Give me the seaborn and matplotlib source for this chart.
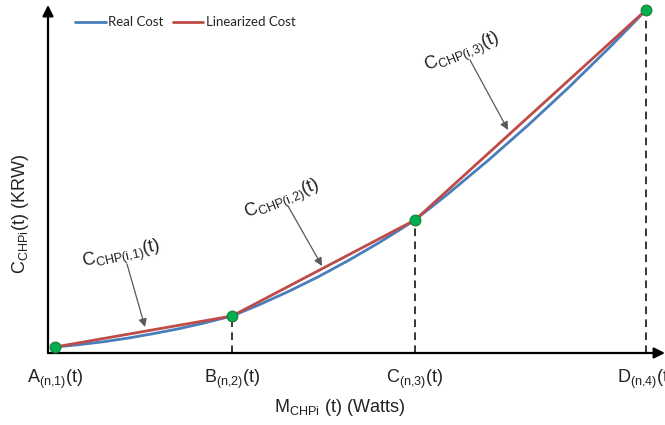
import matplotlib
matplotlib.use("Agg")
import matplotlib.pyplot as plt
import numpy as np
import pandas as pd
import seaborn as sns

# Cost curve of the CHP unit (power offset, cost offset in plot units)
power = [7, 30, 55, 80, 105, 130, 155, 184, 210, 240, 270, 300, 330, 350, 367,
         400, 440, 480, 520, 560, 585, 598]
real_cost = [6, 8.2, 11.2, 14.9, 19.3, 24.1, 29.7, 37, 47.7, 61.3, 76.1, 92.3, 109.7,
             122.1, 133, 159.1, 192.5, 227.7, 264.9, 304, 329.5, 343]

# Breakpoints of the piecewise-linear approximation
break_power = [7, 184, 367, 598]
break_cost = [6, 37, 133, 343]
break_labels = [r"A$_{(n{,}1)}$(t)", r"B$_{(n{,}2)}$(t)", r"C$_{(n{,}3)}$(t)", r"D$_{(n{,}4)}$(t)"]

# Segment annotations: text, text position, rotation, arrow start, arrow end
segment_labels = [r"C$_{CHP(i{,}1)}$(t)", r"C$_{CHP(i{,}2)}$(t)", r"C$_{CHP(i{,}3)}$(t)"]
segment_text_xy = [(74, 98), (235, 153), (415, 300)]
segment_rotation = [12, 22, 22]
segment_arrow_from = [(79, 89), (240, 147), (422, 293)]
segment_arrow_to = [(97, 26), (274, 87), (460, 223)]

sns.set_style("white")
plt.rcParams["font.family"] = ["Liberation Sans", "DejaVu Sans"]
plt.rcParams["mathtext.default"] = "regular"

df = pd.concat([
    pd.DataFrame({"power": power, "cost": real_cost, "series": "Real Cost"}),
    pd.DataFrame({"power": break_power, "cost": break_cost, "series": "Linearized Cost"}),
])

W, H = 665, 425
fig = plt.figure(figsize=(W / 100, H / 100), dpi=100)
ax = fig.add_axes([48 / W, (H - 353) / H, (W - 48) / W, (353 - 5) / H])

sns.lineplot(data=df, x="power", y="cost", hue="series", ax=ax,
             palette={"Real Cost": "#4a7ebb", "Linearized Cost": "#be4b48"},
             linewidth=2, sort=False, estimator=None)

ax.vlines(break_power[1:], 0, break_cost[1:], colors="black",
          linestyles=(0, (5, 3.5)), linewidth=1.1, zorder=1)
ax.scatter(break_power, break_cost, s=60, color="#00b050",
           edgecolor="#1f7a33", linewidth=0.8, zorder=5, clip_on=False)

ax.set_xlim(0, 617)
ax.set_ylim(0, 348)
for s in ax.spines.values():
    s.set_visible(False)

# Axis lines with arrow heads
arrow_kw = dict(arrowstyle="-|>", lw=1.6, color="black", mutation_scale=16,
                shrinkA=0, shrinkB=0)
ax.annotate("", xy=(1, 0), xytext=(0, 0), xycoords="axes fraction",
            arrowprops=arrow_kw, annotation_clip=False)
ax.annotate("", xy=(0, 1), xytext=(0, 0), xycoords="axes fraction",
            arrowprops=arrow_kw, annotation_clip=False)

ax.set_xticks(break_power)
ax.set_xticklabels(break_labels, fontsize=13, color="#222222")
ax.set_yticks([])
ax.tick_params(axis="x", length=0, pad=11)

ax.set_xlabel(r"M$_{CHPi}$ (t) (Watts)", fontsize=13, color="#222222")
ax.xaxis.set_label_coords(0.473, -0.158)
ax.xaxis.label.set_va("center")
ax.set_ylabel(r"C$_{CHPi}$(t) (KRW)", fontsize=13, color="#222222")
ax.yaxis.set_label_coords(-0.045, 0.40)
ax.yaxis.label.set_va("center")

for txt, xy, rot, a0, a1 in zip(segment_labels, segment_text_xy, segment_rotation,
                                segment_arrow_from, segment_arrow_to):
    ax.text(xy[0], xy[1], txt, fontsize=13, rotation=rot, rotation_mode="anchor",
            ha="center", va="center", color="#222222")
    ax.annotate("", xy=a1, xytext=a0,
                arrowprops=dict(arrowstyle="-|>", color="#595959", lw=0.9,
                                mutation_scale=12, shrinkA=0, shrinkB=0))

leg = ax.legend(loc="upper left", bbox_to_anchor=(22 / 617, 1 - 6 / 348), frameon=False,
                ncol=2, handlelength=2.3, handletextpad=0.2, columnspacing=0.7,
                prop={"family": "Lato", "size": 9.5}, borderaxespad=0)
for line in leg.get_lines():
    line.set_linewidth(2)

fig.savefig("out.png", dpi=100)
